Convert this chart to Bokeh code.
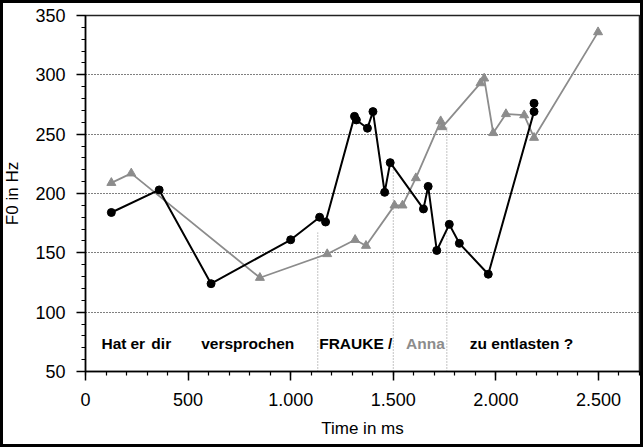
from bokeh.plotting import figure
from bokeh.models import FixedTicker, ColumnDataSource
from bokeh.embed import file_html
from bokeh.resources import INLINE
from bokeh.core.properties import value

# Data: FRAUKE (black, circles)
frauke_t = [126, 359, 612, 1000, 1141, 1170, 1311, 1320, 1374, 1401, 1458, 1485,
            1647, 1670, 1712, 1773, 1822, 1963, 2186, 2186]
frauke_f0 = [184, 203, 124, 161, 180, 176, 265, 262, 255, 269, 201, 226,
             187, 206, 152, 174, 158, 132, 269, 276]

# Data: Anna (gray, triangles)
anna_t = [126, 223, 850, 1178, 1314, 1367, 1506, 1545, 1610, 1731, 1739,
          1925, 1943, 1987, 2049, 2138, 2186, 2498]
anna_f0 = [209, 217, 129, 149, 161, 156, 190, 190, 213, 261, 256,
           293, 297, 251, 267, 266, 247, 336]

# word boundaries (ms) and top of the marker lines (Hz)
boundary_t = [1132, 1500, 1761]
boundary_top = [167, 222, 257]

# words of the sentence
words = ["Hat", "er", "dir", "versprochen", "FRAUKE", "/", "Anna", "zu entlasten ?"]
word_t = [78, 219, 321, 564, 1139, 1474, 1562, 1873]
word_f0 = [73.8] * len(words)
word_color = ["black", "black", "black", "black", "black", "black", "#8c8c8c", "black"]

x_ticks = [0, 500, 1000, 1500, 2000, 2500]
x_tick_labels = ["0", "500", "1.000", "1.500", "2.000", "2.500"]
y_ticks = [50, 100, 150, 200, 250, 300, 350]

GRAY = "#8c8c8c"
FONT = "Liberation Sans"

p = figure(width=643, height=447, x_range=(0, 2700), y_range=(50, 350),
           output_backend="svg", toolbar_location=None,
           min_border_left=84, min_border_right=4, min_border_top=15, min_border_bottom=76)
# outer black frame of the picture (drawn behind a transparent border area)
p.styles = {"background-color": "white", "box-shadow": "inset 0 0 0 3px black"}

p.background_fill_color = "white"
p.border_fill_alpha = 0
p.outline_line_color = "#222222"
p.outline_line_width = 1.5

# grid
p.xgrid.visible = False
p.ygrid.grid_line_color = "black"
p.ygrid.grid_line_dash = "1 2"
p.ygrid.grid_line_width = 1

# axes
p.xaxis.ticker = FixedTicker(ticks=x_ticks, minor_ticks=list(range(0, 2701, 100)))
p.xaxis.major_label_overrides = {t: l for t, l in zip(x_ticks, x_tick_labels)}
p.yaxis.ticker = FixedTicker(ticks=y_ticks, minor_ticks=list(range(50, 351, 10)))

for ax in (p.xaxis[0], p.yaxis[0]):
    ax.axis_line_color = "black"
    ax.axis_line_width = 1.5
    ax.major_tick_line_color = "black"
    ax.major_tick_line_width = 1.5
    ax.minor_tick_line_color = "black"
    ax.minor_tick_line_width = 1.2
    ax.major_tick_in = 0
    ax.major_tick_out = 9
    ax.minor_tick_in = 0
    ax.minor_tick_out = 4
    ax.major_label_text_font = FONT
    ax.major_label_text_font_size = "18px"
    ax.major_label_text_color = "black"
    ax.axis_label_text_font = FONT
    ax.axis_label_text_font_size = "17px"
    ax.axis_label_text_font_style = "normal"
    ax.axis_label_text_color = "black"

p.xaxis.axis_label = "Time in ms"
p.yaxis.axis_label = "F0 in Hz"
p.xaxis.major_label_standoff = 12
p.xaxis.axis_label_standoff = 10
p.yaxis.major_label_standoff = 11
p.yaxis.axis_label_standoff = 10

# boundary marker lines
for t, top in zip(boundary_t, boundary_top):
    p.segment(x0=[t], y0=[50], x1=[t], y1=[top], line_color="#888888",
              line_dash="1 2", line_width=1)

# series
p.line(anna_t, anna_f0, line_color=GRAY, line_width=1.8)
p.scatter(anna_t, anna_f0, marker="triangle", size=9, fill_color=GRAY, line_color=GRAY)

p.line(frauke_t, frauke_f0, line_color="black", line_width=2)
p.scatter(frauke_t, frauke_f0, marker="circle", size=8, fill_color="black", line_color="black")

# sentence words
src = ColumnDataSource(dict(x=word_t, y=word_f0, text=words, color=word_color))
p.text(x="x", y="y", text="text", source=src, text_color="color",
       text_font=value(FONT), text_font_size="15.5px", text_font_style="bold",
       text_baseline="alphabetic", text_align="left")

open("out.html", "w").write(file_html(p, INLINE))
